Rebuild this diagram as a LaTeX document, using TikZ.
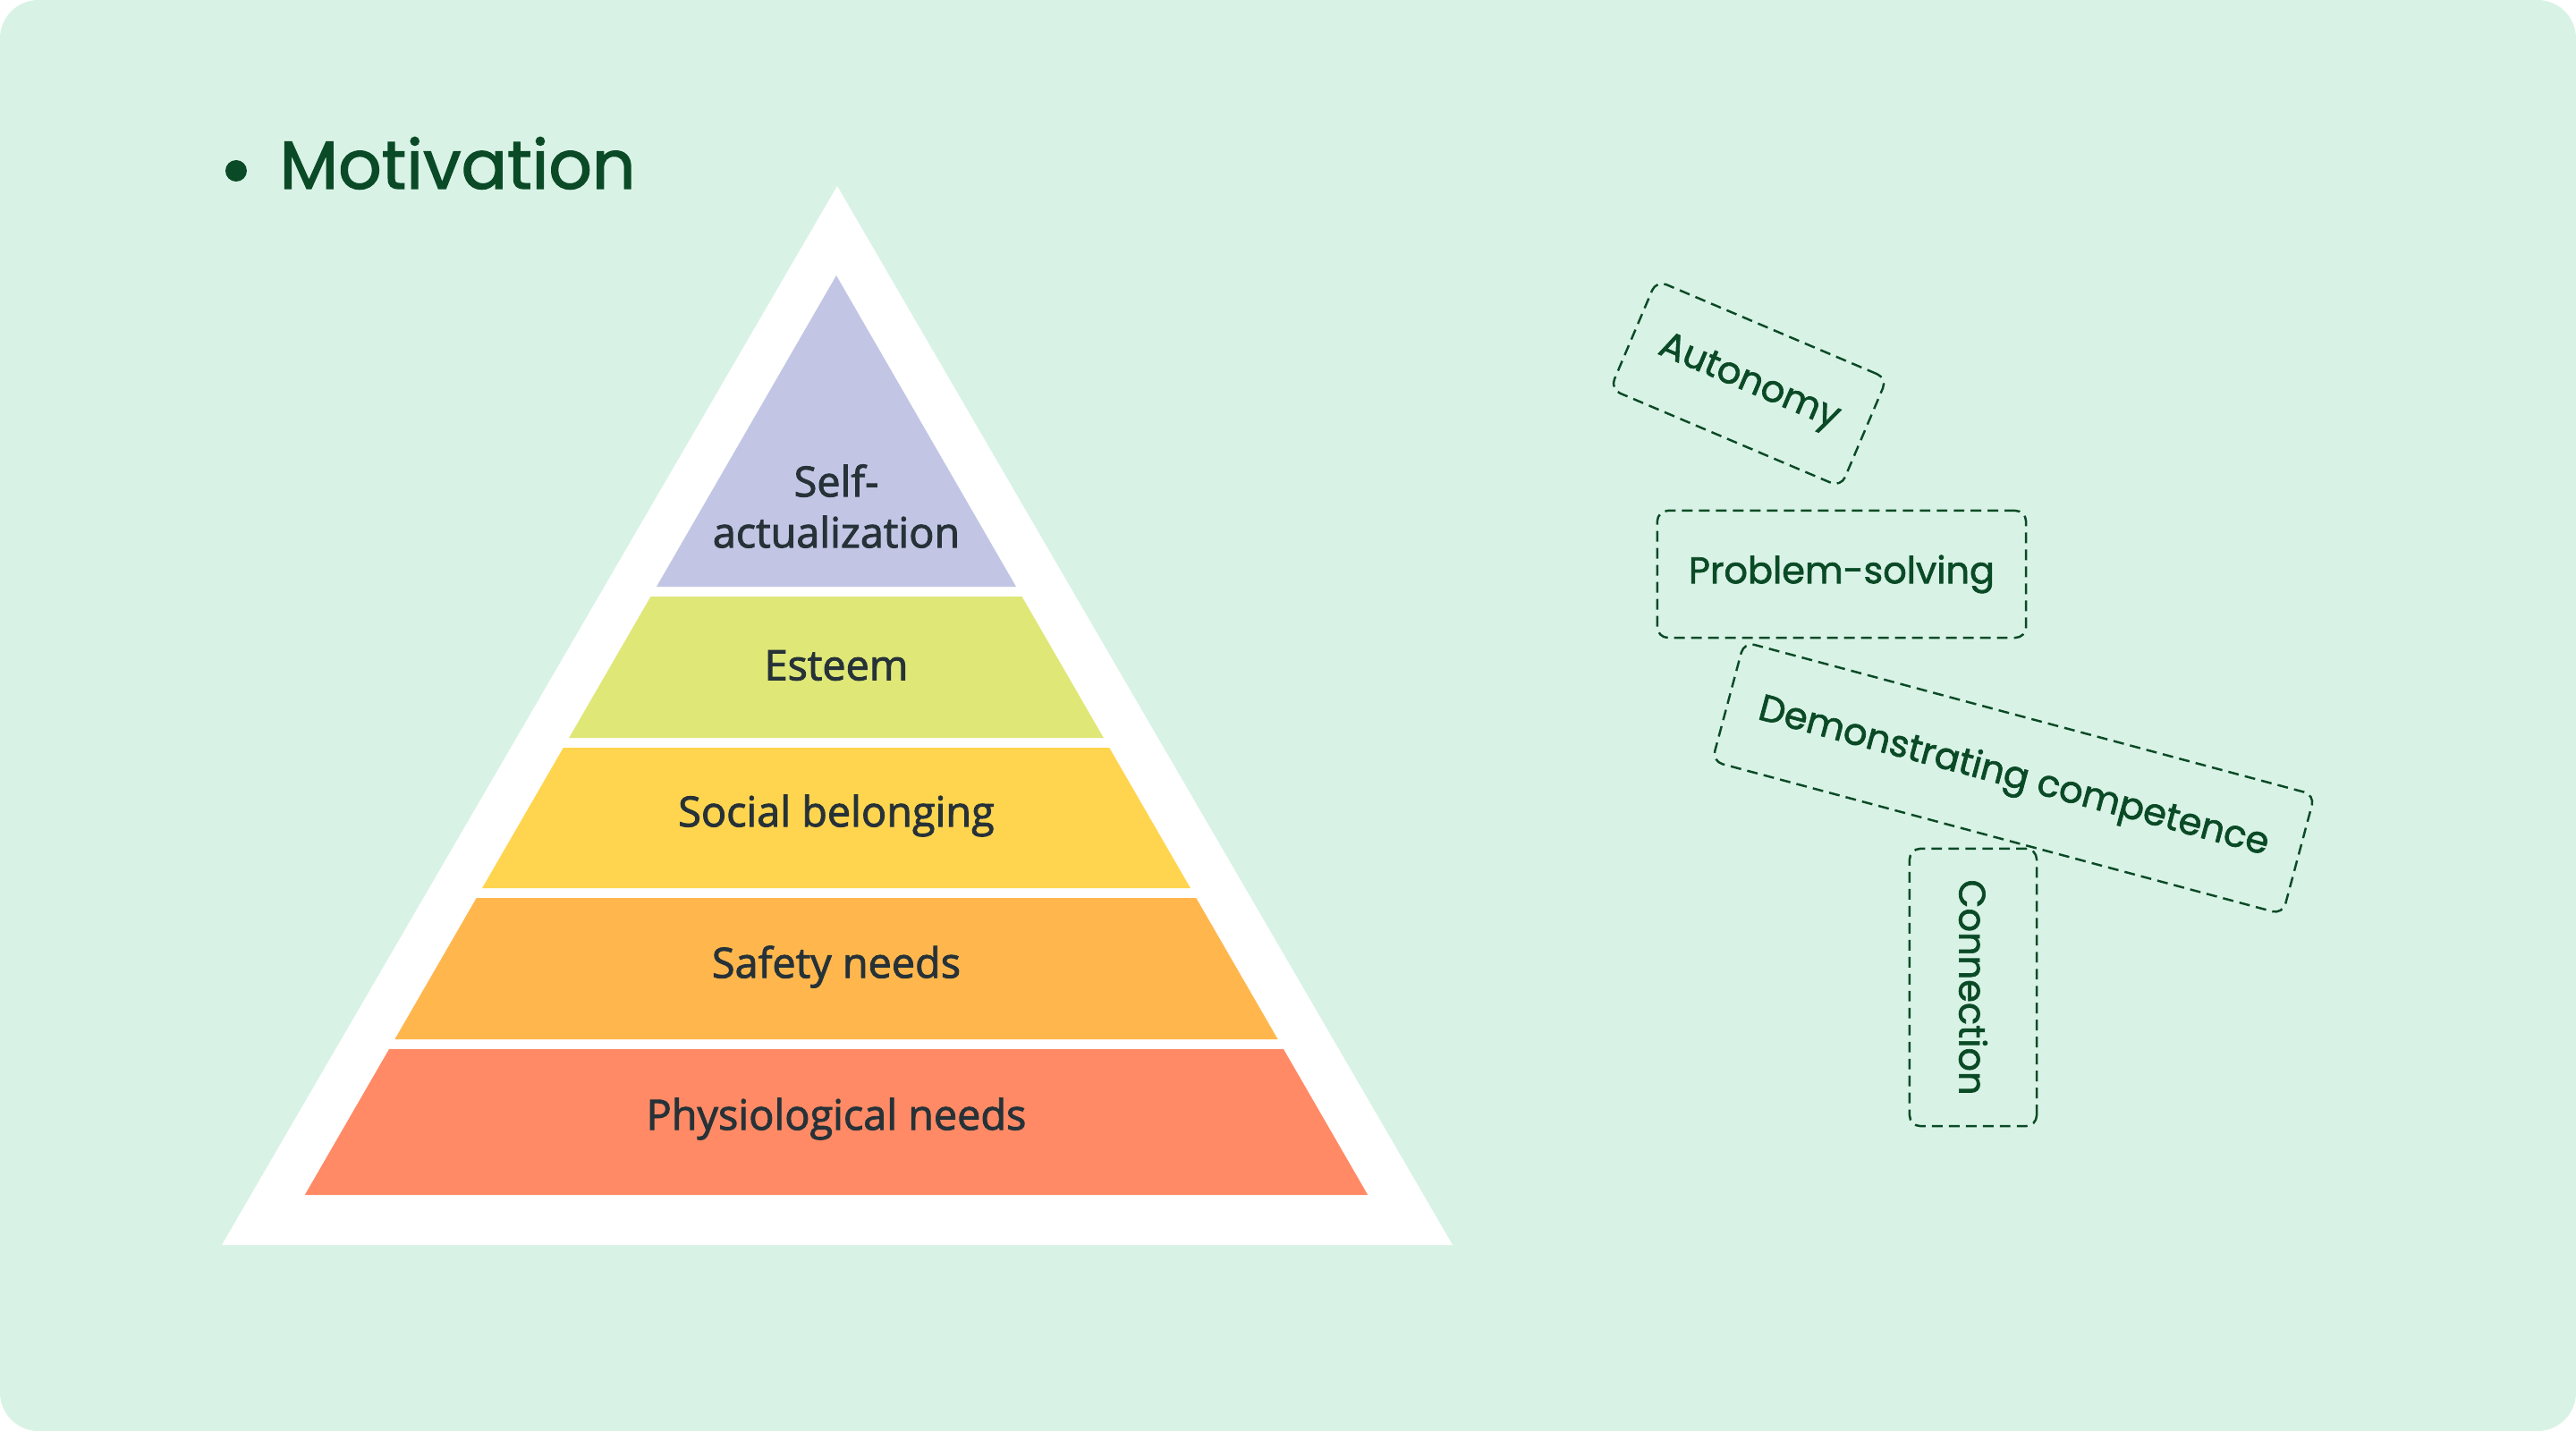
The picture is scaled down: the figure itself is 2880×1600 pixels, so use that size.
\documentclass[tikz,border=0pt]{standalone}
\usepackage{fontspec}
\setmainfont{Open Sans}
\newfontfamily\levelfont{Open Sans}[FakeBold=2]
\newfontfamily\tagfont{Poppins}[FakeBold=1.6]

\definecolor{bgmint}{HTML}{D8F3E6}
\definecolor{darkgreen}{HTML}{0B4A26}
\definecolor{labeltext}{HTML}{263238}
\definecolor{selfcol}{HTML}{C2C6E4}
\definecolor{esteemcol}{HTML}{DFE777}
\definecolor{socialcol}{HTML}{FFD54F}
\definecolor{safetycol}{HTML}{FFB74D}
\definecolor{physiocol}{HTML}{FF8A65}

\begin{document}
\begin{tikzpicture}[x=0.01cm, y=-0.01cm,
    levellabel/.style={font=\levelfont\fontsize{13.3}{16.2}\selectfont, text=labeltext, align=center},
    tagbox/.style={draw=darkgreen, text=darkgreen, line width=0.7pt,
        dash pattern=on 3.4pt off 2pt, rounded corners=3.4pt,
        font=\tagfont\fontsize{11.8}{14}\selectfont, inner sep=0pt}]

    % background card
    \useasboundingbox (0,0) rectangle (2880,1600);
    \fill[white] (0,0) rectangle (2880,1600);
    \fill[bgmint, rounded corners=0.43cm] (0,0) rectangle (2880,1600);

    % title
    \fill[darkgreen] (264,191) circle (12);
    \node[anchor=base west, inner sep=0pt, text=darkgreen,
        font=\tagfont\fontsize{21.6}{26}\selectfont] (title) at (312,211) {Motivation};

    % Pyramid
    \begin{scope}
        \fill[white] (936,208) -- (1624,1392) -- (248,1392) -- cycle;
        \fill[selfcol] (935,308) -- (1136,656) -- (734,656) -- cycle;
        \foreach \yt/\yb/\col in {667/825/esteemcol, 836/993/socialcol,
                1004/1162/safetycol, 1173/1336/physiocol} {
            \pgfmathsetmacro\xt{0.578*(\yt-308)}
            \pgfmathsetmacro\xb{0.578*(\yb-308)}
            \fill[\col] (935-\xt,\yt) -- (935+\xt,\yt) -- (935+\xb,\yb) -- (935-\xb,\yb) -- cycle;
        }
        \node[levellabel] (self) at (935,566) {Self-\\actualization};
        \node[levellabel] (esteem) at (935,744) {Esteem};
        \node[levellabel] (social) at (935,912) {Social belonging};
        \node[levellabel] (safety) at (935,1081) {Safety needs};
        \node[levellabel] (physio) at (935,1251) {Physiological needs};
    \end{scope}

    % Tags
    \begin{scope}
        \node[tagbox, minimum width=2.8cm, minimum height=1.32cm, rotate=-23] (autonomy) at (1955,429) {Autonomy};
        \node[tagbox, minimum width=4.12cm, minimum height=1.42cm] (problem) at (2059,642) {Problem-solving};
        \node[tagbox, minimum width=6.6cm, minimum height=1.38cm, rotate=-15] (competence) at (2251,870) {Demonstrating competence};
        \node[tagbox, minimum width=3.1cm, minimum height=1.42cm, rotate=-90] (connection) at (2206,1104) {Connection};
    \end{scope}
\end{tikzpicture}
\end{document}
